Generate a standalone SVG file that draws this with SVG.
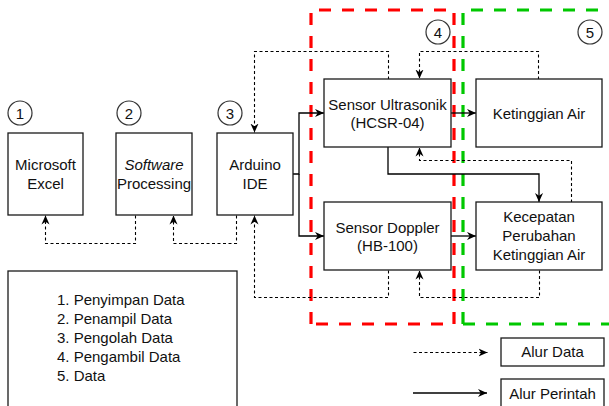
<svg xmlns="http://www.w3.org/2000/svg" width="609" height="406" viewBox="0 0 609 406">
<style>
.box{fill:#fff;stroke:#1a1a1a;stroke-width:1.3}
.num{fill:#fff;stroke:#333;stroke-width:1.2}
text{font-family:"Liberation Sans",Arial,sans-serif;font-size:15px;fill:#111}
.c{text-anchor:middle}
.solid{fill:none;stroke:#000;stroke-width:1.3}
.dash{fill:none;stroke:#000;stroke-width:1.1;stroke-dasharray:3 2.5}
.red{fill:none;stroke:#ff0000;stroke-width:3.2;stroke-dasharray:12 11}
.green{fill:none;stroke:#00c800;stroke-width:3.2;stroke-dasharray:12 11}
</style>
<defs>
<marker id="arr" viewBox="0 0 10 10" refX="10" refY="5" markerWidth="9" markerHeight="9" markerUnits="userSpaceOnUse" orient="auto">
<path d="M0,0.5 L10,5 L0,9.5 L3,5 Z" fill="#000"/>
</marker>
</defs>
<rect width="609" height="406" fill="#fff"/>

<g id="groups">
<path class="red" d="M311,324 V10 H454 V324 Z"/>
<path class="green" d="M463,324 V10 H612 M463,324 H612"/>
</g>

<g id="connectors">
<path class="solid" d="M293,174 H299 V113 H324" marker-end="url(#arr)"/>
<path class="solid" d="M299,174 V236 H324" marker-end="url(#arr)"/>
<path class="solid" d="M451,113 H476" marker-end="url(#arr)"/>
<path class="solid" d="M451,236 H476" marker-end="url(#arr)"/>
<path class="solid" d="M388,147 V174 H539 V202" marker-end="url(#arr)"/>
<g transform="translate(0.5,0.5)">
<path class="dash" d="M135,215 V243 H45 V215" marker-end="url(#arr)"/>
<path class="dash" d="M236,215 V243 H173 V215" marker-end="url(#arr)"/>
<path class="dash" d="M388,79 V51 H254 V132" marker-end="url(#arr)"/>
<path class="dash" d="M538,79 V51 H419 V78" marker-end="url(#arr)"/>
<path class="dash" d="M571,202 V160 H419 V147" marker-end="url(#arr)"/>
<path class="dash" d="M388,270 V297 H254 V215" marker-end="url(#arr)"/>
<path class="dash" d="M539,270 V297 H419 V270" marker-end="url(#arr)"/>
<path class="dash" d="M413,352 H487" marker-end="url(#arr)"/>
</g>
<path class="solid" d="M413,393 H487" marker-end="url(#arr)"/>
</g>

<g id="n1">
<circle class="num" cx="20" cy="113" r="12"/>
<text class="c" x="20" y="118.5">1</text>
</g>
<g id="excel">
<rect class="box" x="8" y="133" width="75" height="82"/>
<text class="c" x="45.5" y="170">Microsoft</text>
<text class="c" x="45.5" y="189">Excel</text>
</g>
<g id="n2">
<circle class="num" cx="129" cy="113" r="12"/>
<text class="c" x="129" y="118.5">2</text>
</g>
<g id="processing">
<rect class="box" x="116" y="133" width="76" height="82"/>
<text class="c" x="154" y="170" font-style="italic">Software</text>
<text class="c" x="154" y="189">Processing</text>
</g>
<g id="n3">
<circle class="num" cx="230" cy="113" r="12"/>
<text class="c" x="230" y="118.5">3</text>
</g>
<g id="arduino">
<rect class="box" x="217" y="133" width="76" height="82"/>
<text class="c" x="255" y="170">Arduino</text>
<text class="c" x="255" y="189">IDE</text>
</g>
<g id="n4">
<circle class="num" cx="438" cy="32" r="12"/>
<text class="c" x="438" y="37.5">4</text>
</g>
<g id="ultrasonik">
<rect class="box" x="324" y="79" width="127" height="68"/>
<text class="c" x="387.5" y="110">Sensor Ultrasonik</text>
<text class="c" x="387.5" y="128">(HCSR-04)</text>
</g>
<g id="doppler">
<rect class="box" x="324" y="202" width="127" height="68"/>
<text class="c" x="387.5" y="233">Sensor Doppler</text>
<text class="c" x="387.5" y="251">(HB-100)</text>
</g>
<g id="n5">
<circle class="num" cx="590" cy="32" r="12"/>
<text class="c" x="590" y="37.5">5</text>
</g>
<g id="ketinggian">
<rect class="box" x="476" y="79" width="126" height="68"/>
<text class="c" x="539" y="118.5">Ketinggian Air</text>
</g>
<g id="kecepatan">
<rect class="box" x="476" y="202" width="126" height="68"/>
<text class="c" x="539" y="222">Kecepatan</text>
<text class="c" x="539" y="241">Perubahan</text>
<text class="c" x="539" y="260">Ketinggian Air</text>
</g>
<g id="legend-list">
<rect class="box" x="8" y="271" width="229" height="150"/>
<text x="57" y="305">1. Penyimpan Data</text>
<text x="57" y="324">2. Penampil Data</text>
<text x="57" y="343">3. Pengolah Data</text>
<text x="57" y="362">4. Pengambil Data</text>
<text x="57" y="381">5. Data</text>
</g>
<g id="legend-data">
<rect class="box" x="501" y="338" width="103" height="28"/>
<text class="c" x="552.5" y="357">Alur Data</text>
</g>
<g id="legend-perintah">
<rect class="box" x="501" y="379" width="103" height="40"/>
<text class="c" x="552.5" y="399">Alur Perintah</text>
</g>
</svg>
